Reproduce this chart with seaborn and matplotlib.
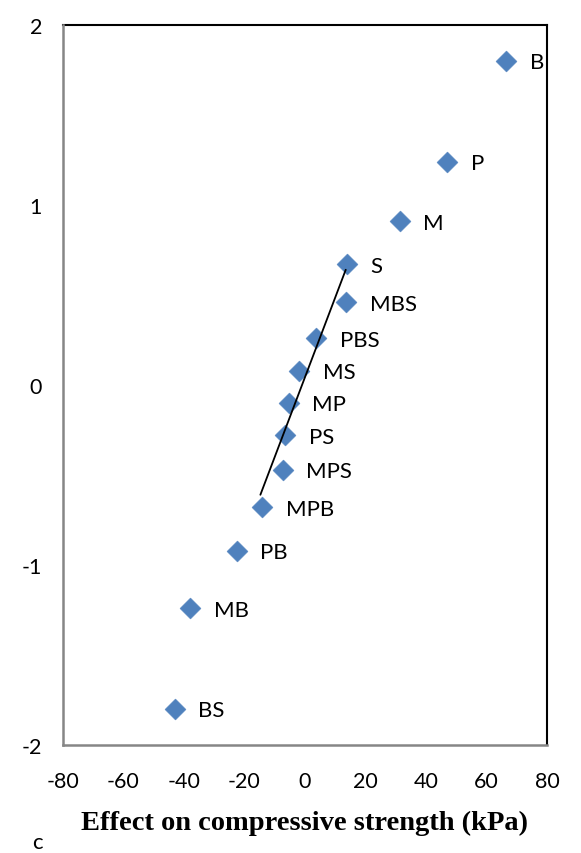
import matplotlib
matplotlib.use("Agg")
import matplotlib.pyplot as plt
import seaborn as sns
import pandas as pd

labels = ["B", "P", "M", "S", "MBS", "PBS", "MS", "MP", "PS", "MPS", "MPB", "PB", "MB", "BS"]
effect = [66.5, 47.0, 31.3, 13.8, 13.6, 3.8, -1.9, -5.4, -6.5, -7.3, -14.2, -22.5, -37.8, -43.0]
zscore = [1.80, 1.24, 0.91, 0.67, 0.46, 0.26, 0.08, -0.10, -0.28, -0.47, -0.68, -0.92, -1.24, -1.80]
fit_x = [-14.7, 13.5]
fit_y = [-0.61, 0.64]
xticks = [-80, -60, -40, -20, 0, 20, 40, 60, 80]
yticks = [-2, -1, 0, 1, 2]

df = pd.DataFrame({"effect": effect, "z": zscore, "label": labels})

sns.set_style("white")
plt.rcParams["font.family"] = ["Lato", "DejaVu Sans"]
plt.rcParams["text.color"] = "black"
plt.rcParams["xtick.labelcolor"] = "black"
plt.rcParams["ytick.labelcolor"] = "black"
plt.rcParams["axes.labelcolor"] = "black"

fig = plt.figure(figsize=(5.81, 8.54), dpi=100)
ax = fig.add_axes([0.108, 0.1265, 0.8335, 0.8431])

sns.scatterplot(data=df, x="effect", y="z", marker="D", s=115, color="#4F81BD",
                edgecolor="#4F81BD", linewidth=0.3, ax=ax, zorder=3)
sns.lineplot(x=fit_x, y=fit_y, color="black", linewidth=1.3, ax=ax, zorder=4)

for lx, ly, lt in zip(effect, zscore, labels):
    ax.annotate(lt, (lx, ly), xytext=(17, -1), textcoords="offset points",
                ha="left", va="center", fontsize=16, color="black")

ax.set_xlim(-80, 80)
ax.set_ylim(-2, 2)
ax.set_xticks(xticks)
ax.set_yticks(yticks)
ax.set_xticklabels([str(t) for t in xticks])
ax.set_yticklabels([str(t) for t in yticks])
ax.tick_params(axis="both", labelsize=15.5, direction="out", length=5, width=1.2,
               color="#868686")
ax.tick_params(axis="x", pad=14)
ax.tick_params(axis="y", pad=10)

for side in ["top", "right"]:
    ax.spines[side].set_color("black")
    ax.spines[side].set_linewidth(1.5)
for side in ["left", "bottom"]:
    ax.spines[side].set_color("#868686")
    ax.spines[side].set_linewidth(1.8)
    ax.spines[side].set_zorder(5)

ax.set_xlabel("Effect on compressive strength (kPa)", fontsize=20.5, fontweight="bold",
              family="Liberation Serif", labelpad=13, color="black")
ax.set_ylabel("")

fig.text(0.055, 0.006, "c", fontsize=16, ha="left", va="baseline", color="black")

fig.savefig("out.png", dpi=100)
